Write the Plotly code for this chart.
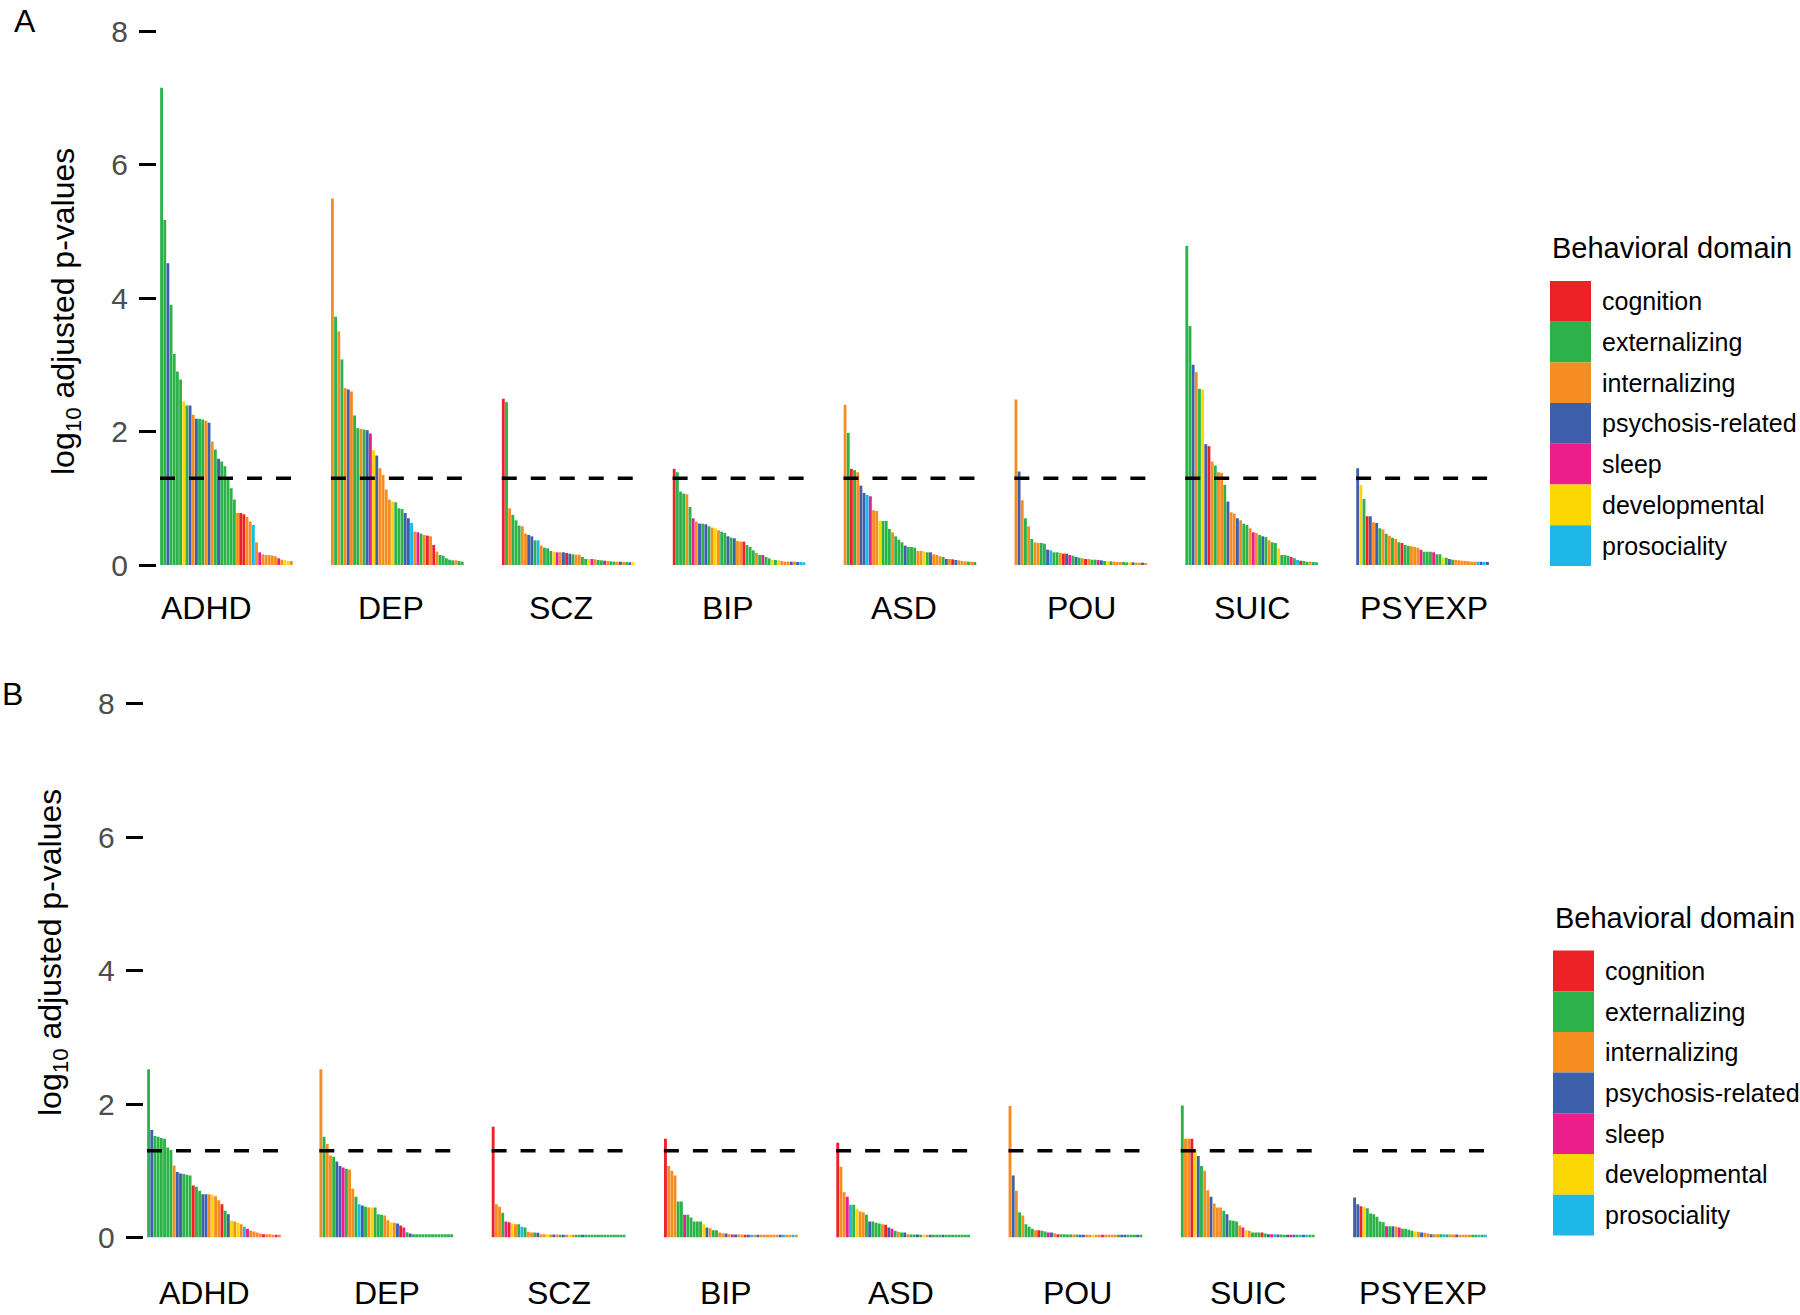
import plotly.graph_objects as go

# ---------------- data ----------------
groups = ["ADHD", "DEP", "SCZ", "BIP", "ASD", "POU", "SUIC", "PSYEXP"]
domain_names = ["cognition", "externalizing", "internalizing", "psychosis-related",
                "sleep", "developmental", "prosociality"]
domain_codes = ["C", "E", "I", "P", "S", "D", "R"]
domain_colors = ["#EC2227", "#2DB24A", "#F68D20", "#3E5FAC", "#EB1E8C", "#FCD703", "#1DB8E8"]

# Panel A
A_ADHD = [7.15, 5.17, 4.52, 3.9, 3.16, 2.9, 2.78, 2.45, 2.39, 2.39,
          2.25, 2.19, 2.19, 2.18, 2.16, 2.13, 1.85, 1.73, 1.59, 1.55,
          1.48, 1.3, 1.15, 0.98, 0.78, 0.78, 0.76, 0.72, 0.65, 0.6,
          0.34, 0.19, 0.16, 0.15, 0.15, 0.14, 0.13, 0.1, 0.08, 0.07, 0.06, 0.06]
A_ADHD_dom = "EEPEEEEDEP" "IPEEIPIEPE" "EEEEICCIIR" "ISIIIIISID" "DI"
A_DEP = [5.49, 3.72, 3.5, 3.08, 2.65, 2.63, 2.6, 2.24, 2.05, 2.04,
         2.03, 2.02, 1.97, 1.72, 1.64, 1.45, 1.35, 1.13, 0.98, 0.95,
         0.94, 0.85, 0.84, 0.78, 0.7, 0.63, 0.5, 0.49, 0.47, 0.45,
         0.44, 0.43, 0.3, 0.2, 0.15, 0.14, 0.1, 0.08, 0.07, 0.07, 0.06, 0.05]
A_DEP_dom = "IEIEIPIEEI" "EPSDPIIIID" "EEEPPRISEI" "CICIEEEEEI" "EE"
A_SCZ = [2.49, 2.44, 0.85, 0.75, 0.67, 0.59, 0.58, 0.47, 0.45, 0.43,
         0.37, 0.37, 0.29, 0.26, 0.25, 0.21, 0.2, 0.19, 0.19, 0.19,
         0.18, 0.17, 0.16, 0.155, 0.155, 0.12, 0.09, 0.09, 0.09, 0.085,
         0.075, 0.07, 0.065, 0.06, 0.055, 0.05, 0.05, 0.05, 0.045, 0.045, 0.04, 0.04]
A_SCZ_dom = "CEIEEEIIPP" "ERIEEEDSIP" "CPEIIEEDSI" "EESIEEIPIE" "PD"
A_BIP = [1.44, 1.39, 1.1, 1.07, 1.06, 0.87, 0.7, 0.65, 0.62, 0.62,
         0.61, 0.58, 0.56, 0.55, 0.52, 0.5, 0.48, 0.43, 0.41, 0.4,
         0.36, 0.35, 0.35, 0.3, 0.27, 0.22, 0.18, 0.15, 0.15, 0.12,
         0.1, 0.08, 0.075, 0.07, 0.06, 0.05, 0.05, 0.05, 0.05, 0.045, 0.045, 0.04]
A_BIP_dom = "CEEEIESIPE" "PEIDIEEPEP" "IICEEEIESE" "EDEDIIIPIP" "RR"
A_ASD = [2.4, 1.98, 1.44, 1.42, 1.39, 1.19, 1.08, 1.05, 1.03, 0.82,
         0.81, 0.66, 0.66, 0.66, 0.54, 0.49, 0.43, 0.38, 0.34, 0.29,
         0.27, 0.27, 0.26, 0.21, 0.21, 0.2, 0.19, 0.19, 0.16, 0.15,
         0.13, 0.12, 0.09, 0.09, 0.085, 0.075, 0.07, 0.06, 0.055, 0.05, 0.05, 0.045]
A_ASD_dom = "IECEIPPRSI" "IDEEEIEEEP" "EEEIIDEPII" "IEPICPIIIE" "IE"
A_POU = [2.48, 1.4, 0.97, 0.7, 0.58, 0.39, 0.34, 0.33, 0.33, 0.32,
         0.23, 0.22, 0.19, 0.19, 0.18, 0.17, 0.17, 0.15, 0.14, 0.12,
         0.11, 0.1, 0.09, 0.09, 0.08, 0.08, 0.075, 0.07, 0.06, 0.055,
         0.055, 0.05, 0.045, 0.045, 0.045, 0.04, 0.04, 0.04, 0.035, 0.035, 0.035, 0.03]
A_POU_dom = "IPIEIEIIEE" "PREEICPSEP" "EICIEESPED" "EIIIEEDPII" "PI"
A_SUIC = [4.78, 3.58, 3.0, 2.89, 2.64, 2.63, 1.81, 1.78, 1.55, 1.49,
          1.39, 1.38, 1.2, 0.95, 0.79, 0.77, 0.7, 0.67, 0.62, 0.6,
          0.55, 0.49, 0.48, 0.45, 0.43, 0.42, 0.37, 0.34, 0.33, 0.25,
          0.15, 0.15, 0.14, 0.12, 0.1, 0.075, 0.065, 0.06, 0.05, 0.05, 0.045, 0.04]
A_SUIC_dom = "EEPIEDPCIE" "IIEPIIPIEE" "ISIEPEIEED" "EEESERCEEI" "EE"
A_PSYEXP = [1.45, 1.2, 0.99, 0.73, 0.73, 0.64, 0.63, 0.55, 0.53, 0.47,
            0.44, 0.41, 0.39, 0.34, 0.33, 0.3, 0.29, 0.28, 0.27, 0.26,
            0.23, 0.2, 0.2, 0.2, 0.19, 0.16, 0.16, 0.11, 0.11, 0.09,
            0.08, 0.075, 0.07, 0.065, 0.06, 0.055, 0.05, 0.05, 0.05, 0.05, 0.045, 0.045]
A_PSYEXP_dom = "PDECPIPEIE" "IEIECEEIII" "SEEESEEDEP" "EIIIIIIIRP" "RP"

# Panel B
B_ADHD = [2.52, 1.61, 1.52, 1.51, 1.49, 1.48, 1.35, 1.31, 1.08, 0.98,
          0.96, 0.95, 0.94, 0.93, 0.78, 0.76, 0.7, 0.65, 0.65, 0.65,
          0.64, 0.62, 0.56, 0.5, 0.4, 0.35, 0.25, 0.24, 0.22, 0.2,
          0.16, 0.13, 0.1, 0.09, 0.075, 0.06, 0.05, 0.05, 0.05, 0.04, 0.04, 0.04]
B_ADHD_dom = "EPEEEEEEIP" "PEEECEEPPI" "DIICEPDIDI" "RSIIIISIII" "SI"
B_DEP = [2.52, 1.51, 1.4, 1.23, 1.21, 1.14, 1.07, 1.05, 1.03, 1.02,
         0.73, 0.61, 0.5, 0.48, 0.46, 0.45, 0.45, 0.45, 0.35, 0.34,
         0.33, 0.26, 0.23, 0.22, 0.21, 0.18, 0.15, 0.08, 0.06, 0.05,
         0.05, 0.05, 0.05, 0.05, 0.05, 0.05, 0.05, 0.05, 0.05, 0.05, 0.05, 0.05]
B_DEP_dom = "IEIIEPPSEI" "IERPEIDEEE" "IIDIPCSEPE" "EEEEEEEEEE" "EE"
B_SCZ = [1.66, 0.5, 0.46, 0.37, 0.24, 0.23, 0.21, 0.2, 0.2, 0.16,
         0.15, 0.085, 0.075, 0.075, 0.07, 0.05, 0.05, 0.045, 0.045, 0.045,
         0.045, 0.04, 0.04, 0.04, 0.04, 0.04, 0.04, 0.04, 0.04, 0.04,
         0.04, 0.04, 0.04, 0.04, 0.04, 0.04, 0.04, 0.04, 0.04, 0.04, 0.04, 0.04]
B_SCZ_dom = "CIIESCDIER" "EIIEPIIDIP" "IEPIDIEEPE" "EEEEEEEEEE" "EE"
B_BIP = [1.48, 1.07, 1.0, 0.93, 0.54, 0.54, 0.34, 0.34, 0.3, 0.24,
         0.24, 0.24, 0.2, 0.15, 0.14, 0.11, 0.11, 0.075, 0.065, 0.06,
         0.05, 0.045, 0.045, 0.045, 0.045, 0.04, 0.04, 0.04, 0.04, 0.04,
         0.04, 0.04, 0.04, 0.04, 0.04, 0.04, 0.04, 0.04, 0.04, 0.04, 0.04, 0.04]
B_BIP_dom = "CIIIEESEEE" "EEDPIEEIIP" "ISPIICPRIP" "IIIIIIPRII" "RI"
B_ASD = [1.42, 1.06, 0.68, 0.61, 0.49, 0.49, 0.43, 0.39, 0.38, 0.34,
         0.24, 0.24, 0.22, 0.21, 0.2, 0.19, 0.15, 0.13, 0.1, 0.085,
         0.075, 0.075, 0.05, 0.045, 0.045, 0.045, 0.04, 0.04, 0.04, 0.04,
         0.04, 0.04, 0.04, 0.04, 0.04, 0.04, 0.04, 0.04, 0.04, 0.04, 0.04, 0.04]
B_ASD_dom = "CIISREDIIE" "PEEEICPSEI" "EPIEEPEDIP" "EEEPEEEEEE" "EE"
B_POU = [1.97, 0.93, 0.7, 0.38, 0.33, 0.2, 0.16, 0.13, 0.11, 0.11,
         0.1, 0.09, 0.075, 0.075, 0.065, 0.05, 0.05, 0.05, 0.045, 0.045,
         0.045, 0.045, 0.04, 0.04, 0.04, 0.04, 0.04, 0.04, 0.04, 0.04,
         0.04, 0.04, 0.04, 0.04, 0.04, 0.04, 0.04, 0.04, 0.04, 0.04, 0.04, 0.04]
B_POU_dom = "IPIEIEEEIC" "EESPICEEEE" "IEPPIIDIIS" "IIIIEPPEEE" "PE"
B_SUIC = [1.98, 1.48, 1.48, 1.48, 1.32, 1.22, 1.07, 1.0, 0.71, 0.61,
          0.51, 0.45, 0.45, 0.4, 0.35, 0.26, 0.25, 0.24, 0.18, 0.15,
          0.11, 0.1, 0.075, 0.075, 0.075, 0.075, 0.06, 0.05, 0.05, 0.05,
          0.045, 0.045, 0.04, 0.04, 0.04, 0.04, 0.04, 0.04, 0.04, 0.04, 0.04, 0.04]
B_SUIC_dom = "EIICDPEIIP" "IIIEPEEEIS" "DIEEECEPSR" "PEEPSPERPR" "EE"
B_PSYEXP = [0.6, 0.5, 0.47, 0.46, 0.44, 0.36, 0.35, 0.31, 0.24, 0.23,
            0.17, 0.17, 0.17, 0.16, 0.15, 0.13, 0.13, 0.115, 0.1, 0.09,
            0.085, 0.075, 0.07, 0.06, 0.05, 0.05, 0.05, 0.05, 0.05, 0.045,
            0.045, 0.045, 0.045, 0.04, 0.04, 0.04, 0.04, 0.04, 0.04, 0.04, 0.04, 0.04]
B_PSYEXP_dom = "PPCDEEEEEE" "SEPISEEEED" "IPIIPIIERE" "IIPIIIIEER" "ER"

threshold = 1.3  # -log10(0.05)
y_ticks = [0, 2, 4, 6, 8]

panel_A_vals = [A_ADHD, A_DEP, A_SCZ, A_BIP, A_ASD, A_POU, A_SUIC, A_PSYEXP]
panel_A_doms = [A_ADHD_dom, A_DEP_dom, A_SCZ_dom, A_BIP_dom, A_ASD_dom, A_POU_dom, A_SUIC_dom, A_PSYEXP_dom]
panel_B_vals = [B_ADHD, B_DEP, B_SCZ, B_BIP, B_ASD, B_POU, B_SUIC, B_PSYEXP]
panel_B_doms = [B_ADHD_dom, B_DEP_dom, B_SCZ_dom, B_BIP_dom, B_ASD_dom, B_POU_dom, B_SUIC_dom, B_PSYEXP_dom]

# ---------------- layout geometry (pixels) ----------------
W, H = 1800, 1315
FONT = "Liberation Sans, Arial, sans-serif"
TICK_GRAY = "#4D4D4D"
code_color = dict(zip(domain_codes, domain_colors))

N = max(len(v) for v in panel_A_vals)
GSTEP = 54  # slots per group (bars + gap)
XMIN = -1.5
XMAX = (len(groups) - 1) * GSTEP + N

panels = [
    dict(letter="A", vals=panel_A_vals, doms=panel_A_doms, xa="x", ya="y",
         bar_left=160, bar_right=1489, y0=565, y8=31,
         letter_xy=(25, 1), ytitle_xy=(65, 312), xlab_y=608,
         xlab_shift=[-19.5, -6.3, -6.9, -10.9, -5.7, 1.1, 0, 1.7],
         leg_x=1550, leg_title_y=248, leg_top=281),
    dict(letter="B", vals=panel_B_vals, doms=panel_B_doms, xa="x2", ya="y2",
         bar_left=147, bar_right=1487, y0=1237.5, y8=703.7,
         letter_xy=(12, 674), ytitle_xy=(52, 953), xlab_y=1293,
         xlab_shift=[-9.8, 0.6, 0.6, -5.2, -1.7, 1.7, 0.6, 2.9],
         leg_x=1553, leg_title_y=918, leg_top=950.5),
]

fig = go.Figure()
annotations = []
shapes = []
layout_axes = {}

for p in panels:
    xs, ys, cs = [], [], []
    for g, (vals, doms) in enumerate(zip(p["vals"], p["doms"])):
        for i, (v, d) in enumerate(zip(vals, doms)):
            xs.append(g * GSTEP + i)
            ys.append(v)
            cs.append(code_color[d])
    fig.add_trace(go.Bar(x=xs, y=ys, marker=dict(color=cs, line=dict(width=0)),
                         width=0.9, xaxis=p["xa"], yaxis=p["ya"], showlegend=False,
                         hoverinfo="skip"))
    # threshold dashed segments per group
    for g, vals in enumerate(p["vals"]):
        fig.add_trace(go.Scatter(x=[g * GSTEP - 0.5, g * GSTEP + len(vals) - 0.5],
                                 y=[threshold, threshold], mode="lines",
                                 line=dict(color="black", width=3.5, dash="15px,14px"),
                                 xaxis=p["xa"], yaxis=p["ya"], showlegend=False,
                                 hoverinfo="skip"))
    pitch = (p["bar_right"] - p["bar_left"]) / (XMAX - 0.5 + 0.5)
    dom_left = p["bar_left"] + (XMIN + 0.5) * pitch
    dom_right = p["bar_left"] + (XMAX + 0.5) * pitch
    xkey = "xaxis" if p["xa"] == "x" else "xaxis2"
    ykey = "yaxis" if p["ya"] == "y" else "yaxis2"
    layout_axes[xkey] = dict(domain=[dom_left / W, dom_right / W], range=[XMIN, XMAX],
                             showgrid=False, zeroline=False, showline=False,
                             showticklabels=False, ticks="", anchor=p["ya"],
                             automargin=False, fixedrange=True)
    layout_axes[ykey] = dict(domain=[1 - p["y0"] / H, 1 - p["y8"] / H], range=[0, 8],
                             tickvals=y_ticks, ticks="outside", ticklen=17, tickwidth=2.5,
                             tickcolor="black", showgrid=False, zeroline=False,
                             showline=False, ticklabelstandoff=5,
                             tickfont=dict(size=30, color=TICK_GRAY, family=FONT),
                             anchor=p["xa"], automargin=False, fixedrange=True)
    # group labels
    for g, (name, vals) in enumerate(zip(groups, p["vals"])):
        annotations.append(dict(x=g * GSTEP + (len(vals) - 1) / 2 + p["xlab_shift"][g] / pitch,
                                y=1 - p["xlab_y"] / H,
                                xref=p["xa"], yref="paper", text=name, showarrow=False,
                                xanchor="center", yanchor="middle",
                                font=dict(size=32, color="black", family=FONT)))
    # panel letter
    annotations.append(dict(x=p["letter_xy"][0] / W, y=1 - p["letter_xy"][1] / H,
                            xref="paper", yref="paper", text=p["letter"], showarrow=False,
                            xanchor="center", yanchor="top",
                            font=dict(size=32, color="black", family=FONT)))
    # y title
    annotations.append(dict(x=p["ytitle_xy"][0] / W, y=1 - p["ytitle_xy"][1] / H,
                            xref="paper", yref="paper",
                            text="log<sub>10</sub> adjusted p-values", textangle=-90,
                            showarrow=False, xanchor="center", yanchor="middle",
                            font=dict(size=32, color="black", family=FONT)))
    # legend (custom swatches)
    annotations.append(dict(x=p["leg_x"] / W, y=1 - p["leg_title_y"] / H,
                            xref="paper", yref="paper", text="Behavioral domain",
                            showarrow=False, xanchor="left", yanchor="middle",
                            font=dict(size=29, color="black", family=FONT)))
    sw_h, sw_w = 40.7, 41
    for k, (nm, col) in enumerate(zip(domain_names, domain_colors)):
        top = p["leg_top"] + k * sw_h
        shapes.append(dict(type="rect", xref="paper", yref="paper",
                           x0=p["leg_x"] / W, x1=(p["leg_x"] + sw_w) / W,
                           y0=1 - (top + sw_h) / H, y1=1 - top / H,
                           fillcolor=col, line=dict(width=0), layer="above"))
        annotations.append(dict(x=(p["leg_x"] + sw_w + 9) / W, y=1 - (top + sw_h / 2) / H,
                                xref="paper", yref="paper", text=nm, showarrow=False,
                                xanchor="left", yanchor="middle",
                                font=dict(size=25, color="black", family=FONT)))

fig.update_layout(
    width=W, height=H, margin=dict(l=0, r=0, t=0, b=0, pad=0), autosize=False,
    paper_bgcolor="white", plot_bgcolor="white",
    font=dict(family=FONT), showlegend=False,
    annotations=annotations, shapes=shapes, **layout_axes,
)

fig.write_html("out.html", config={"displayModeBar": False},
               post_script="document.body.style.margin='0';")
